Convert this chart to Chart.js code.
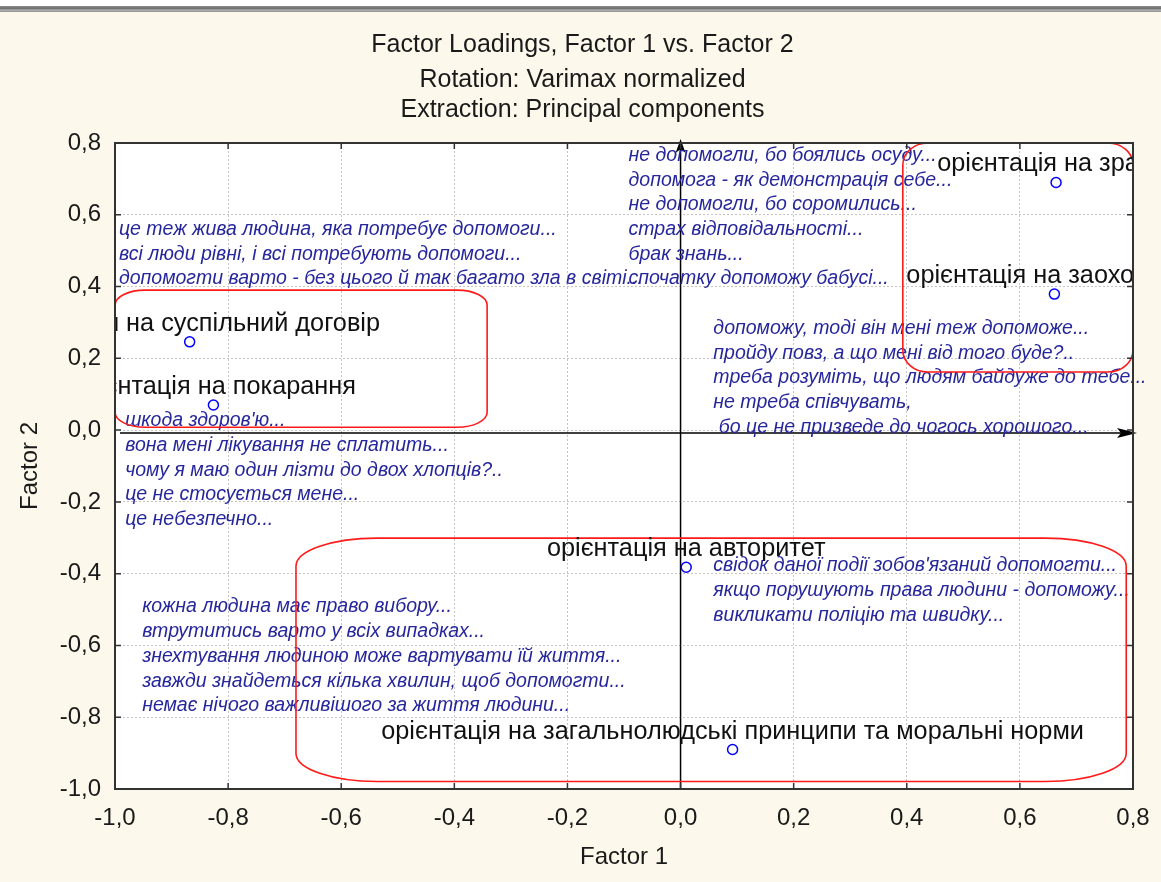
<!DOCTYPE html>
<html>
<head>
<meta charset="utf-8">
<title>Factor Loadings</title>
<script src="https://cdn.jsdelivr.net/npm/chart.js@4.4.1/dist/chart.umd.min.js"></script>
<style>
  html, body { margin: 0; padding: 0; background: #fdf8ec; }
  #wrap { position: relative; width: 1161px; height: 882px; }
  #chart { position: absolute; left: 0; top: 0; }
  .topline { position: absolute; left: 0; top: 0; width: 1161px; height: 6px; background: #fff; }
  .topline2 { position: absolute; left: 0; top: 6px; width: 1161px; height: 6px;
    background: linear-gradient(#8a8a8a, #6f6f6f 40%, #b4b4b4 70%, #8c8c8c); }
</style>
</head>
<body>
<div id="wrap">
  <canvas id="chart" width="1161" height="882"></canvas>
  <div class="topline"></div>
  <div class="topline2"></div>
</div>
<script>
const axisTicks = [-1.0, -0.8, -0.6, -0.4, -0.2, 0.0, 0.2, 0.4, 0.6, 0.8];

const factor1 = [0.664, 0.661, -0.868, -0.826, 0.010, 0.092];
const factor2 = [0.690, 0.379, 0.246, 0.070, -0.382, -0.890];
const varNames = [
  "орієнтація на зразок",
  "орієнтація на заохочення",
  "орієнтація на суспільний договір",
  "орієнтація на покарання",
  "орієнтація на авторитет",
  "орієнтація на загальнолюдські принципи та моральні норми"
];

const titleLines = [
  "Factor Loadings, Factor 1 vs. Factor 2",
  "Rotation: Varimax normalized",
  "Extraction: Principal components"
];

// відповіді респондентів
const notesTopLeft = [
  "це теж жива людина, яка потребує допомоги...",
  "всі люди рівні, і всі потребують допомоги...",
  "допомогти варто - без цього й так багато зла в світі..."
];
const notesTopMid = [
  "не допомогли, бо боялись осуду...",
  "допомога - як демонстрація себе...",
  "не допомогли, бо соромились...",
  "страх відповідальності...",
  "брак знань...",
  "спочатку допоможу бабусі..."
];
const notesRight = [
  "допоможу, тоді він мені теж допоможе...",
  "пройду повз, а що мені від того буде?..",
  "треба розуміть, що людям байдуже до тебе...",
  "не треба співчувать,",
  " бо це не призведе до чогось хорошого..."
];
const notesLeft = [
  "шкода здоров'ю...",
  "вона мені лікування не сплатить...",
  "чому я маю один лізти до двох хлопців?..",
  "це не стосується мене...",
  "це небезпечно..."
];
const notesBottomLeft = [
  "кожна людина має право вибору...",
  "втрутитись варто у всіх випадках...",
  "знехтування людиною може вартувати їй життя...",
  "завжди знайдеться кілька хвилин, щоб допомогти...",
  "немає нічого важливішого за життя людини..."
];
const notesBottomRight = [
  "свідок даної події зобов'язаний допомогти...",
  "якщо порушують права людини - допоможу...",
  "викликати поліцію та швидку..."
];

// where each block starts (axis units, first baseline)
const noteBlocks = [
  { x: -0.993, y: 0.544, lines: notesTopLeft },
  { x: -0.092, y: 0.750, lines: notesTopMid },
  { x: 0.058, y: 0.268, lines: notesRight },
  { x: -0.982, y: 0.011, lines: notesLeft },
  { x: -0.952, y: -0.508, lines: notesBottomLeft },
  { x: 0.058, y: -0.393, lines: notesBottomRight }
];

// red groupings, axis units
const groups = [
  { x0: -1.0, x1: -0.342, y0: 0.008, y1: 0.390, rx: 30, ry: 15 },
  { x0: 0.393, x1: 0.800, y0: 0.162, y1: 0.800, rx: 25, ry: 22 },
  { x0: -0.680, x1: 0.788, y0: -0.979, y1: -0.301, rx: 81, ry: 28 }
];

const FONT = "'Liberation Sans', Arial, sans-serif";
const fmt = v => (Math.abs(v) < 1e-9 ? 0 : v).toFixed(1).replace('.', ',');

function roundBox(ctx, l, t, r, b, rx, ry) {
  ctx.beginPath();
  ctx.moveTo(l + rx, t);
  ctx.lineTo(r - rx, t);
  ctx.ellipse(r - rx, t + ry, rx, ry, 0, -Math.PI / 2, 0);
  ctx.lineTo(r, b - ry);
  ctx.ellipse(r - rx, b - ry, rx, ry, 0, 0, Math.PI / 2);
  ctx.lineTo(l + rx, b);
  ctx.ellipse(l + rx, b - ry, rx, ry, 0, Math.PI / 2, Math.PI);
  ctx.lineTo(l, t + ry);
  ctx.ellipse(l + rx, t + ry, rx, ry, 0, Math.PI, Math.PI * 1.5);
  ctx.closePath();
  ctx.stroke();
}

const decor = {
  id: 'decor',
  beforeDraw(chart) {
    const { ctx, chartArea: a } = chart;
    ctx.save();
    ctx.fillStyle = '#ffffff';
    ctx.fillRect(a.left, a.top, a.right - a.left, a.bottom - a.top);
    ctx.restore();
  },
  beforeDatasetsDraw(chart) {
    const { ctx, chartArea: a, scales: { x, y } } = chart;
    const x0 = x.getPixelForValue(0);
    const y0 = y.getPixelForValue(0) + 3;

    // axes through the origin
    ctx.save();
    ctx.strokeStyle = '#000';
    ctx.fillStyle = '#000';
    ctx.lineWidth = 1.5;
    ctx.beginPath();
    ctx.moveTo(x0, a.bottom);
    ctx.lineTo(x0, a.top + 4);
    ctx.moveTo(a.left + 5, y0);
    ctx.lineTo(a.right - 6, y0);
    ctx.stroke();
    ctx.beginPath();
    ctx.moveTo(x0, a.top - 4);
    ctx.lineTo(x0 - 5, a.top + 10);
    ctx.lineTo(x0, a.top + 6);
    ctx.lineTo(x0 + 5, a.top + 10);
    ctx.closePath();
    ctx.fill();
    ctx.beginPath();
    ctx.moveTo(a.right + 4, y0);
    ctx.lineTo(a.right - 16, y0 - 5);
    ctx.lineTo(a.right - 12, y0);
    ctx.lineTo(a.right - 16, y0 + 5);
    ctx.closePath();
    ctx.fill();
    ctx.restore();

    // notes
    ctx.save();
    ctx.font = 'italic 19.5px ' + FONT;
    ctx.fillStyle = '#26269c';
    ctx.textBaseline = 'alphabetic';
    ctx.textAlign = 'left';
    noteBlocks.forEach(nb => {
      const px = x.getPixelForValue(nb.x);
      const py = y.getPixelForValue(nb.y);
      nb.lines.forEach((s, i) => ctx.fillText(s, px, py + i * 24.7));
    });
    ctx.restore();

    // red groups
    ctx.save();
    ctx.beginPath();
    ctx.rect(a.left, a.top, a.right - a.left, a.bottom - a.top);
    ctx.clip();
    ctx.strokeStyle = '#ff1a1a';
    ctx.lineWidth = 1.6;
    groups.forEach(g => {
      roundBox(ctx, x.getPixelForValue(g.x0), y.getPixelForValue(g.y1),
        x.getPixelForValue(g.x1), y.getPixelForValue(g.y0), g.rx, g.ry);
    });

    // point names
    ctx.font = '25.3px ' + FONT;
    ctx.fillStyle = '#111';
    ctx.textAlign = 'center';
    ctx.textBaseline = 'alphabetic';
    varNames.forEach((n, i) => {
      ctx.fillText(n, x.getPixelForValue(factor1[i]), y.getPixelForValue(factor2[i]) - 11);
    });
    ctx.restore();
  },
  afterDraw(chart) {
    const { ctx, chartArea: a, scales: { x, y } } = chart;
    ctx.save();
    // frame and inner tick marks
    ctx.strokeStyle = '#333';
    ctx.lineWidth = 2;
    ctx.strokeRect(a.left, a.top, a.right - a.left, a.bottom - a.top);
    ctx.lineWidth = 1.5;
    ctx.beginPath();
    axisTicks.forEach(v => {
      const px = x.getPixelForValue(v), py = y.getPixelForValue(v);
      ctx.moveTo(px, a.bottom); ctx.lineTo(px, a.bottom - 6);
      ctx.moveTo(px, a.top); ctx.lineTo(px, a.top + 6);
      ctx.moveTo(a.left, py); ctx.lineTo(a.left + 6, py);
      ctx.moveTo(a.right, py); ctx.lineTo(a.right - 6, py);
    });
    ctx.stroke();

    // titles
    ctx.fillStyle = '#1a1a1a';
    ctx.font = '25px ' + FONT;
    ctx.textAlign = 'center';
    ctx.textBaseline = 'middle';
    const cx = chart.width / 2 + 2;
    [45, 80, 110].forEach((ty, i) => ctx.fillText(titleLines[i], cx, ty));
    ctx.restore();
  }
};

const ctx = document.getElementById('chart');
new Chart(ctx, {
  type: 'scatter',
  data: {
    datasets: [{
      label: 'Factor loadings',
      data: factor1.map((v, i) => ({ x: v, y: factor2[i] })),
      pointStyle: 'circle',
      pointRadius: 5,
      pointBorderWidth: 1.5,
      pointBorderColor: '#0000ff',
      pointBackgroundColor: 'rgba(255,255,255,0)'
    }]
  },
  options: {
    responsive: false,
    animation: false,
    layout: { padding: { top: 143, right: 28, left: 0, bottom: 0 } },
    plugins: { legend: { display: false }, tooltip: { enabled: false } },
    scales: {
      x: {
        type: 'linear',
        min: -1.0,
        max: 0.8,
        afterBuildTicks: s => { s.ticks = axisTicks.map(v => ({ value: v })); },
        afterFit: s => { s.height = 93; s.paddingLeft = 0; s.paddingRight = 0; },
        ticks: { font: { family: FONT, size: 24 }, color: '#1a1a1a', padding: 15, callback: fmt, maxRotation: 0 },
        grid: { color: '#c4c4c4', lineWidth: 1, drawTicks: false },
        border: { display: false, dash: [2, 2] },
        title: { display: true, text: 'Factor 1', font: { family: FONT, size: 24 }, color: '#1a1a1a', padding: { top: 4, bottom: 10 } }
      },
      y: {
        type: 'linear',
        min: -1.0,
        max: 0.8,
        afterBuildTicks: s => { s.ticks = axisTicks.map(v => ({ value: v })); },
        afterFit: s => { s.width = 115; s.paddingTop = 0; s.paddingBottom = 0; },
        ticks: { font: { family: FONT, size: 24 }, color: '#1a1a1a', padding: 14, callback: fmt },
        grid: { color: '#c4c4c4', lineWidth: 1, drawTicks: false },
        border: { display: false, dash: [2, 2] },
        title: { display: true, text: 'Factor 2', font: { family: FONT, size: 24 }, color: '#1a1a1a', padding: { top: 16, bottom: 4 } }
      }
    }
  },
  plugins: [decor]
});
</script>
</body>
</html>
